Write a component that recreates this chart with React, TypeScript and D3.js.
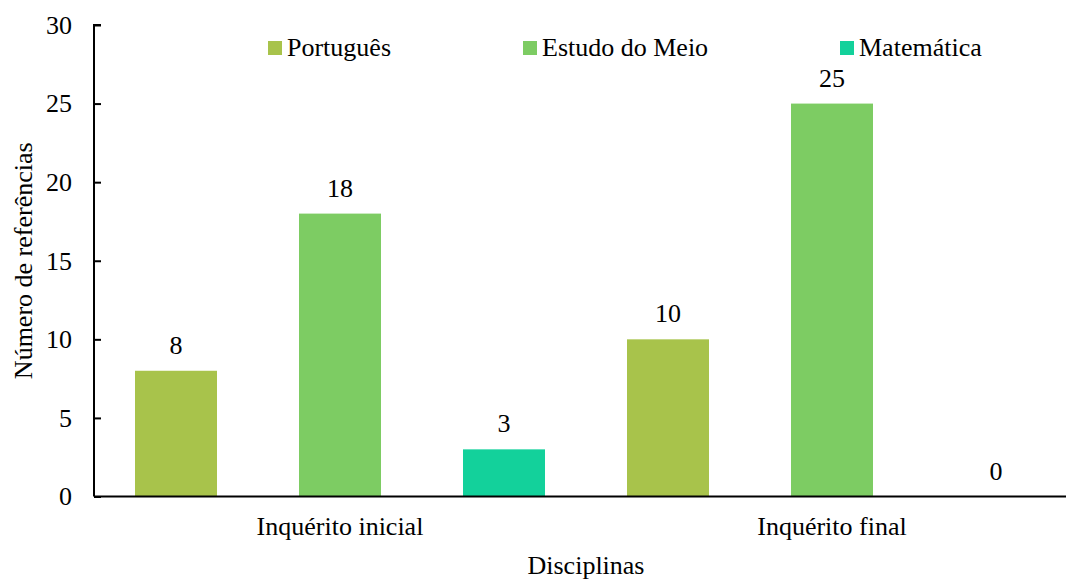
import React, { useEffect, useRef } from 'react';
import * as d3 from 'd3';

const groups = ['Inquérito inicial', 'Inquérito final'];
const subjects = ['Português', 'Estudo do Meio', 'Matemática'];
const portugues = [8, 10];
const estudoDoMeio = [18, 25];
const matematica = [3, 0];
const colors = ['#a8c34b', '#7dcc63', '#13d19b'];
const yTicks = [0, 5, 10, 15, 20, 25, 30];

const W = 1066;
const H = 581;
const FONT = '"Liberation Serif", "Times New Roman", serif';
const FS = 26;

export default function App() {
  const ref = useRef<SVGSVGElement>(null);

  useEffect(() => {
    document.body.style.margin = '0';
    const svg = d3.select(ref.current);
    svg.selectAll('*').remove();

    const left = 94, right = 1078, top = 25, bottom = 496.5;
    const series = [portugues, estudoDoMeio, matematica];

    const x0 = d3.scaleBand().domain(groups).range([left, right]);
    const x1 = d3.scaleBand().domain(subjects).range([0, x0.bandwidth()]).paddingInner(0.5).paddingOuter(0.25);
    const y = d3.scaleLinear().domain([0, 30]).range([bottom, top]);

    const rows = groups.flatMap((g, gi) =>
      subjects.map((s, si) => ({ g, s, si, v: series[si][gi] })));

    const bars = svg.append('g');
    bars.selectAll('rect')
      .data(rows)
      .join('rect')
      .attr('x', d => x0(d.g)! + x1(d.s)!)
      .attr('y', d => y(d.v))
      .attr('width', x1.bandwidth())
      .attr('height', d => bottom - y(d.v))
      .attr('fill', d => colors[d.si]);

    bars.selectAll('text')
      .data(rows)
      .join('text')
      .attr('x', d => x0(d.g)! + x1(d.s)! + x1.bandwidth() / 2)
      .attr('y', d => y(d.v) - 17)
      .attr('text-anchor', 'middle')
      .attr('font-family', FONT)
      .attr('font-size', FS)
      .text(d => d.v);

    // y axis
    const yAxis = svg.append('g').attr('transform', `translate(${left},0)`)
      .call(d3.axisRight(y).tickValues(yTicks).tickSize(7).tickFormat(d => String(d)));
    yAxis.select('.domain').attr('stroke', '#000').attr('stroke-width', 2)
      .attr('d', `M7,${top}H0V${bottom}`);
    yAxis.selectAll('.tick line').attr('stroke', '#000').attr('stroke-width', 2);
    yAxis.selectAll('.tick text')
      .attr('x', -22)
      .attr('dy', '0.32em')
      .attr('text-anchor', 'end')
      .attr('font-family', FONT)
      .attr('font-size', FS)
      .attr('fill', '#000');

    // x axis
    svg.append('line')
      .attr('x1', left).attr('x2', right)
      .attr('y1', bottom).attr('y2', bottom)
      .attr('stroke', '#000').attr('stroke-width', 2);

    svg.append('g').selectAll('text')
      .data(groups)
      .join('text')
      .attr('x', d => x0(d)! + x0.bandwidth() / 2)
      .attr('y', 535)
      .attr('text-anchor', 'middle')
      .attr('font-family', FONT)
      .attr('font-size', FS)
      .text(d => d);

    svg.append('text')
      .attr('x', (left + right) / 2)
      .attr('y', 574)
      .attr('text-anchor', 'middle')
      .attr('font-family', FONT)
      .attr('font-size', FS)
      .text('Disciplinas');

    svg.append('text')
      .attr('transform', `translate(32,${(top + bottom) / 2}) rotate(-90)`)
      .attr('text-anchor', 'middle')
      .attr('font-family', FONT)
      .attr('font-size', FS)
      .text('Número de referências');

    // legend
    const legendX = [268, 523, 840];
    const legend = svg.append('g').selectAll('g')
      .data(subjects)
      .join('g')
      .attr('transform', (d, i) => `translate(${legendX[i]},41)`);
    legend.append('rect')
      .attr('width', 14).attr('height', 14)
      .attr('fill', (d, i) => colors[i]);
    legend.append('text')
      .attr('x', 19).attr('y', 15)
      .attr('font-family', FONT)
      .attr('font-size', FS)
      .text(d => d);
  }, []);

  return <svg ref={ref} width={W} height={H} style={{ display: 'block' }} />;
}
